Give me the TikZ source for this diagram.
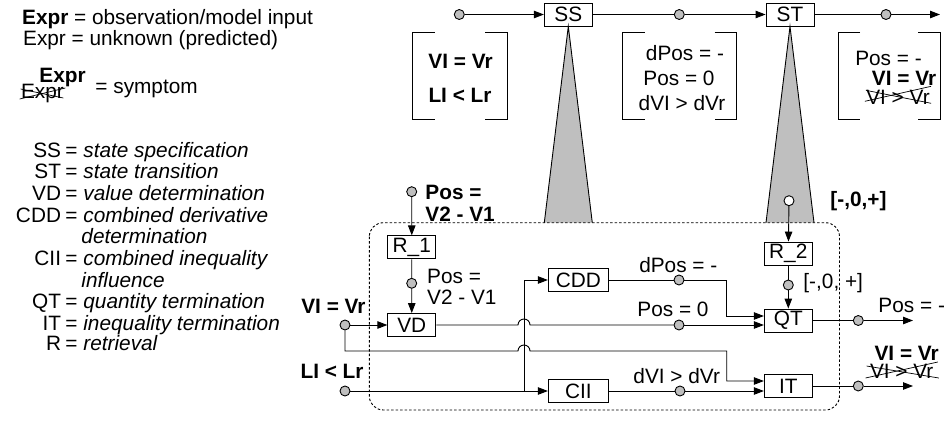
\documentclass[tikz,border=0pt]{standalone}
\usepackage{fontspec}
\setmainfont{Liberation Sans}
\usetikzlibrary{calc,arrows.meta}

\begin{document}
\fontsize{20.8}{21.7}\selectfont
\begin{tikzpicture}[
        x=1pt,
        y=-1pt,
        line width=0.9pt,
        inner sep=0pt,
        block/.style={
            rectangle,
            draw,
            minimum width=48pt,
            minimum height=23pt
        },
        wideblock/.style={
            block,
            minimum width=60pt
        },
        port/.style={
            circle,
            draw,
            fill=gray!50,
            minimum size=10pt
        },
        wedge/.style={fill=gray!50},
        strike/.style={line width=0.7pt},
        mapperframe/.style={dash pattern=on 2.5pt off 2pt, rounded corners=14pt},
        arrow/.style={-{Triangle[length=10pt,width=7.5pt]}}
    ]
        \useasboundingbox (0,0) rectangle (946,421);

        % Legend
        \node[anchor=west] (lgobs) at (21.7,19) {\textbf{Expr} = observation/model input};
        \node[anchor=west] (lgunk) at (22.7,40) {Expr = unknown (predicted)};
        \node[font=\bfseries] (lgsymb) at (62.5,77.5) {Expr};
        \node (lgsymn) at (42.5,93) {Expr};
        \node[anchor=west] (lgsym) at (95,89) {= symptom};
        \draw[strike] ($(lgsymn.west)+(-1,6)$) -- ($(lgsymn.east)+(1,-5)$);
        \draw[strike] ($(lgsymn.west)+(0,-4)$) -- ($(lgsymn.east)+(-1,5)$);

        \foreach \y/\abbr/\desc in {150/SS/state specification, 171.7/ST/state transition,
                193.3/VD/value determination, 215/CDD/combined derivative,
                258.3/CII/combined inequality, 301.7/QT/quantity termination,
                323.3/IT/inequality termination, 343.3/R/retrieval} {
            \node[anchor=base east] (lg\abbr) at (61.5,\y+7) {\abbr};
            \node[anchor=base west] (lgd\abbr) at (65,\y+7) {= \textit{\desc}};
        }
        \node[anchor=base west] (lgdCDDb) at (81,243.7) {\textit{determination}};
        \node[anchor=base west] (lgdCIIb) at (81,287) {\textit{influence}};

        % State chain
        \node[port] (in0) at (459.3,14.5) {};
        \node[block] (SS) at (568.3,14.5) {SS};
        \node[port] (mid0) at (679.3,14.5) {};
        \node[block] (ST) at (790,14.5) {ST};
        \node[port] (out0) at (886,14.5) {};
        \coordinate (end0) at (940,14.5);

        \draw[arrow] (in0) -- (SS);
        \draw (SS) -- (mid0);
        \draw[arrow] (mid0) -- (ST);
        \draw (ST) -- (out0);
        \draw[arrow] (out0) -- (end0);

        % State brackets
        \foreach \xa/\xb in {412.5/507, 622.7/736.7, 838/940} {
            \draw (\xa+22,32) -- (\xa,32) -- (\xa,119) -- (\xa+22,119);
            \draw (\xb-22,32) -- (\xb,32) -- (\xb,119) -- (\xb-22,119);
        }
        \node[font=\bfseries] (s0vl) at (460.5,61.7) {VI = Vr};
        \node[font=\bfseries] (s0lr) at (460,95) {LI < Lr};
        \node (s1dp) at (685,52.7) {dPos = -};
        \node (s1p) at (679,78.3) {Pos = 0};
        \node (s1dv) at (682,102.7) {dVI > dVr};
        \node (s2p) at (888.5,58.3) {Pos = -};
        \node[font=\bfseries] (s2vl) at (904,78.3) {VI = Vr};
        \node (s2vg) at (898,97.3) {VI > Vr};
        \draw[strike] ($(s2vg.west)+(-1,4)$) -- ($(s2vg.east)+(1,-11)$);
        \draw[strike] ($(s2vg.west)+(0,-7)$) -- ($(s2vg.east)+(1,6)$);

        % Zoom wedges
        \coordinate (frametop) at (0,222.7);
        \foreach \n in {SS,ST} {
            \fill[wedge] (\n.south) -- ($(\n.south |- frametop)+(-24,0)$) -- ($(\n.south |- frametop)+(24,0)$) -- cycle;
            \draw ($(\n.south |- frametop)+(-24,0)$) -- (\n.south) -- ($(\n.south |- frametop)+(24,0)$);
        }
        \draw[mapperframe] (369.3,222.7) rectangle (839.5,410);

        % Value path
        \node[port] (posin) at (411.7,191.7) {};
        \node[font=\bfseries, align=left, anchor=west] (posintxt) at (425,203) {Pos =\\V2 - V1};
        \node[block] (R1) at (411.8,247.3) {R\_1};
        \node[port] (posmid) at (411.7,283.3) {};
        \node[align=left, anchor=west] (posmidtxt) at (426.7,286.7) {Pos =\\V2 - V1};
        \node[block] (VD) at (411.8,325) {VD};

        \draw[arrow] (posin) -- (R1);
        \draw (R1) -- (posmid);
        \draw[arrow] (posmid) -- (VD);

        % Inputs
        \node[port] (VI) at (345,325) {};
        \node[font=\bfseries, anchor=east] (VItxt) at (366,306.7) {VI = Vr};
        \node[port] (LI) at (345,391) {};
        \node[font=\bfseries, anchor=east] (LItxt) at (364,371.7) {LI < Lr};

        \node[wideblock] (CDD) at (578.3,280) {CDD};
        \node[wideblock] (CII) at (578.3,391) {CII};
        \coordinate (split) at (524,391);
        \coordinate (turn) at (726.7,351);

        \draw[arrow] (VI) -- (VD);
        \draw[arrow] (LI) -- (CII);
        \draw[arrow] (split) |- (CDD);

        % Intermediate values
        \node[port] (dpos) at (679,280) {};
        \node[port] (pzero) at (679,325) {};
        \node[port] (dvi) at (680,391) {};
        \node (dpostxt) at (678.3,265) {dPos = -};
        \node (pzerotxt) at (673,309) {Pos = 0};
        \node (dvitxt) at (676.7,376) {dVI > dVr};

        % Termination side
        \node[port, fill=white] (range) at (789,200.7) {};
        \node[font=\bfseries, anchor=west] (rangetxt) at (830,200.7) {[-,0,+]};
        \node[block] (R2) at (788.3,253.5) {R\_2};
        \node[port] (rangemid) at (788.3,285) {};
        \node[anchor=west] (rangemidtxt) at (803,283.3) {[-,0, +]};
        \node[block] (QT) at (788.3,320.5) {QT};
        \node[block] (IT) at (788.3,386) {IT};

        \draw[arrow] (range) -- (R2);
        \draw (R2) -- (rangemid);
        \draw[arrow] (rangemid) -- (QT);

        \coordinate (qtin1) at ([yshift=4.5pt]QT.west);
        \coordinate (qtin2) at ([yshift=-4.5pt]QT.west);
        \coordinate (itin1) at ([yshift=5pt]IT.west);
        \coordinate (itin2) at ([yshift=-5pt]IT.west);

        % Crossing connectors
        \draw (VD) -- ($(VD -| split)+(-6,0)$) arc[start angle=180, end angle=0, radius=6pt] -- (pzero);
        \draw[arrow] (pzero) -- (qtin2);
        \draw[arrow] (VI) -- (VI |- turn) -- ($(turn -| split)+(-6,0)$) arc[start angle=180, end angle=0, radius=6pt] -- (turn) |- (itin1);
        \draw (CDD) -- (dpos);
        \draw[arrow] (dpos) -| (qtin1 -| turn) -- (qtin1);
        \draw (CII) -- (dvi);
        \draw[arrow] (dvi) -- (itin2);

        % Outputs
        \node[port] (qtout) at (858.3,320.5) {};
        \coordinate (qtend) at (913,320.5);
        \node[port] (itout) at (858.3,386) {};
        \coordinate (itend) at (913,386);
        \draw (QT) -- (qtout);
        \draw[arrow] (qtout) -- (qtend);
        \draw (IT) -- (itout);
        \draw[arrow] (itout) -- (itend);
        \node (qtouttxt) at (911.7,305) {Pos = -};
        \node[font=\bfseries] (itoutvl) at (906.7,353) {VI = Vr};
        \node (itoutvg) at (901.7,371) {VI > Vr};
        \draw[strike] ($(itoutvg.west)+(-4,7)$) -- ($(itoutvg.east)+(4,-9)$);
        \draw[strike] ($(itoutvg.west)+(-3,-5)$) -- ($(itoutvg.east)+(5,7)$);

    \end{tikzpicture}
\end{document}
